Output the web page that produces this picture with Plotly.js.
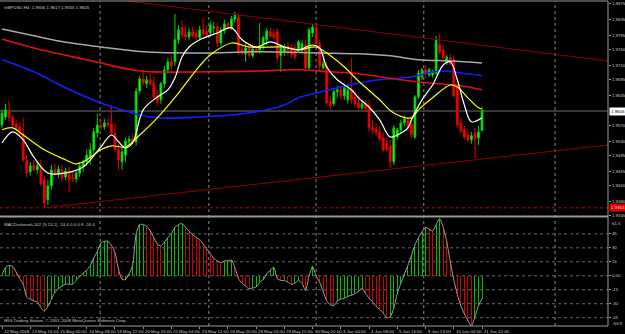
<!DOCTYPE html>
<html><head><meta charset="utf-8">
<script src="https://cdn.plot.ly/plotly-3.0.1.min.js"></script>
<style>html,body{margin:0;padding:0;background:#000;}#c{width:625px;height:334px;}</style>
</head><body><div id="c"></div>
<script>
// ---- price data (GBPUSD H4), one value per bar ----
const open = [1.9570,1.9590,1.9605,1.9588,1.9573,1.9565,1.9550,1.9483,1.9453,1.9468,
1.9458,1.9463,1.9433,1.9383,1.9418,1.9458,1.9448,1.9458,1.9440,1.9455,
1.9438,1.9435,1.9450,1.9465,1.9478,1.9490,1.9508,1.9550,1.9570,1.9565,
1.9575,1.9573,1.9550,1.9508,1.9478,1.9495,1.9528,1.9535,1.9528,1.9655,
1.9685,1.9673,1.9683,1.9675,1.9643,1.9633,1.9673,1.9708,1.9728,1.9728,
1.9783,1.9813,1.9798,1.9790,1.9803,1.9798,1.9788,1.9808,1.9803,1.9800,
1.9813,1.9815,1.9775,1.9805,1.9823,1.9813,1.9833,1.9840,1.9758,1.9748,
1.9765,1.9743,1.9760,1.9758,1.9768,1.9783,1.9803,1.9798,1.9803,1.9743,
1.9753,1.9768,1.9763,1.9763,1.9758,1.9758,1.9770,1.9713,1.9800,1.9813,
1.9773,1.9713,1.9718,1.9628,1.9623,1.9653,1.9658,1.9643,1.9633,1.9658,
1.9638,1.9625,1.9613,1.9623,1.9618,1.9563,1.9560,1.9553,1.9538,1.9523,
1.9518,1.9478,1.9540,1.9558,1.9575,1.9583,1.9573,1.9540,1.9640,1.9690,
1.9708,1.9695,1.9695,1.9700,1.9770,1.9758,1.9725,1.9738,1.9733,1.9663,
1.9575,1.9558,1.9545,1.9533,1.9550,1.9538,1.9556];
const high = [1.9608,1.9623,1.9630,1.9595,1.9583,1.9578,1.9588,1.9495,1.9478,1.9483,
1.9475,1.9483,1.9443,1.9433,1.9470,1.9473,1.9468,1.9470,1.9463,1.9465,
1.9453,1.9458,1.9478,1.9483,1.9508,1.9525,1.9563,1.9598,1.9583,1.9585,
1.9588,1.9618,1.9575,1.9523,1.9513,1.9538,1.9543,1.9548,1.9663,1.9693,
1.9708,1.9693,1.9698,1.9693,1.9658,1.9678,1.9718,1.9738,1.9745,1.9848,
1.9820,1.9833,1.9818,1.9813,1.9815,1.9808,1.9818,1.9838,1.9820,1.9830,
1.9828,1.9825,1.9815,1.9833,1.9828,1.9843,1.9853,1.9848,1.9773,1.9773,
1.9773,1.9768,1.9770,1.9825,1.9793,1.9813,1.9813,1.9808,1.9813,1.9773,
1.9773,1.9778,1.9773,1.9773,1.9783,1.9783,1.9783,1.9813,1.9823,1.9820,
1.9783,1.9733,1.9728,1.9643,1.9663,1.9668,1.9668,1.9673,1.9673,1.9738,
1.9653,1.9643,1.9633,1.9633,1.9633,1.9583,1.9573,1.9568,1.9553,1.9538,
1.9533,1.9570,1.9563,1.9583,1.9593,1.9590,1.9588,1.9645,1.9708,1.9713,
1.9718,1.9713,1.9708,1.9793,1.9798,1.9768,1.9745,1.9748,1.9743,1.9673,
1.9588,1.9568,1.9558,1.9553,1.9563,1.9568,1.9617];
const low = [1.9563,1.9583,1.9578,1.9563,1.9558,1.9545,1.9478,1.9438,1.9443,1.9453,
1.9448,1.9418,1.9363,1.9370,1.9408,1.9443,1.9438,1.9428,1.9433,1.9403,
1.9428,1.9428,1.9440,1.9453,1.9468,1.9470,1.9498,1.9540,1.9558,1.9558,
1.9563,1.9543,1.9503,1.9458,1.9458,1.9478,1.9518,1.9523,1.9518,1.9648,
1.9668,1.9663,1.9668,1.9633,1.9618,1.9623,1.9663,1.9698,1.9708,1.9718,
1.9773,1.9788,1.9783,1.9783,1.9788,1.9783,1.9783,1.9793,1.9788,1.9790,
1.9798,1.9765,1.9768,1.9798,1.9808,1.9808,1.9825,1.9745,1.9743,1.9728,
1.9738,1.9738,1.9748,1.9748,1.9758,1.9770,1.9788,1.9783,1.9728,1.9703,
1.9743,1.9743,1.9738,1.9733,1.9753,1.9748,1.9708,1.9708,1.9790,1.9768,
1.9708,1.9708,1.9618,1.9608,1.9618,1.9638,1.9633,1.9633,1.9623,1.9623,
1.9613,1.9608,1.9608,1.9603,1.9553,1.9548,1.9543,1.9528,1.9503,1.9503,
1.9463,1.9470,1.9533,1.9550,1.9568,1.9553,1.9538,1.9535,1.9635,1.9683,
1.9688,1.9690,1.9688,1.9695,1.9745,1.9733,1.9720,1.9718,1.9638,1.9563,
1.9550,1.9533,1.9528,1.9523,1.9488,1.9520,1.9555];
const close = [1.9600,1.9608,1.9588,1.9570,1.9563,1.9555,1.9483,1.9450,1.9468,1.9458,
1.9468,1.9423,1.9375,1.9418,1.9458,1.9448,1.9460,1.9438,1.9455,1.9433,
1.9435,1.9450,1.9468,1.9478,1.9495,1.9508,1.9553,1.9570,1.9565,1.9575,
1.9570,1.9550,1.9508,1.9483,1.9503,1.9530,1.9535,1.9528,1.9655,1.9685,
1.9675,1.9683,1.9673,1.9640,1.9628,1.9673,1.9708,1.9728,1.9718,1.9783,
1.9808,1.9795,1.9790,1.9803,1.9793,1.9790,1.9808,1.9798,1.9795,1.9820,
1.9815,1.9775,1.9808,1.9823,1.9813,1.9835,1.9845,1.9753,1.9750,1.9763,
1.9743,1.9760,1.9755,1.9768,1.9788,1.9805,1.9793,1.9790,1.9738,1.9763,
1.9765,1.9750,1.9745,1.9740,1.9778,1.9773,1.9713,1.9808,1.9815,1.9773,
1.9718,1.9723,1.9625,1.9618,1.9653,1.9658,1.9643,1.9663,1.9658,1.9633,
1.9623,1.9613,1.9623,1.9610,1.9563,1.9558,1.9550,1.9535,1.9508,1.9508,
1.9478,1.9563,1.9558,1.9575,1.9585,1.9563,1.9545,1.9640,1.9700,1.9708,
1.9698,1.9708,1.9703,1.9783,1.9753,1.9738,1.9740,1.9723,1.9643,1.9570,
1.9555,1.9540,1.9533,1.9543,1.9535,1.9553,1.9605];

// ---- MACD histogram, one value per bar ----
const macd = [1,9,11,10,4,-3,-9,-23,-25,-27,
-28,-34,-38,-33,-25,-18,-14,-11,-9,-9,
-9,-5,-1,3,6,11,19,26,35,37,
37,33,25,7,-4,-4,2,11,45,55,
55,53,48,41,34,32,36,41,45,52,
55,56,52,48,44,41,39,34,29,24,
19,16,14,16,16,17,9,-3,-8,-11,
-14,-13,-12,-7,-4,2,6,9,-3,-5,
-5,-7,-9,-8,-5,-8,-16,0,10,0,
-7,-17,-27,-31,-32,-27,-25,-24,-22,-21,
-19,-17,-13,-19,-24,-28,-33,-36,-40,-45,
-44,-35,-19,-8,2,11,22,33,41,47,
52,50,48,55,61.5,52,37,15,-4,-20,
-32,-41,-48,-53.9,-44,-32,-24.4];

// ---- moving averages (bar index, price) ----
const maGrayX = [0,8,16,28,40,56,73,90,101,110,118,127,136];
const maGrayY = [1.9810,1.9795,1.9780,1.9765,1.9753,1.9750,1.9753,1.9750,1.9748,1.9743,1.9733,1.9730,1.9725];
const maRedX = [0,11,24,28,39,59,73,84,93,101,113,121,130,136];
const maRedY = [1.9785,1.9758,1.9733,1.9725,1.9705,1.9703,1.9705,1.9708,1.9703,1.9698,1.9683,1.9675,1.9668,1.9658];
const maBlueX = [0,9,18,28,37,44,56,70,80,84,89,96,101,107,116,124,130,136];
const maBlueY = [1.9733,1.9703,1.9663,1.9625,1.9600,1.9588,1.9590,1.9600,1.9620,1.9638,1.9650,1.9665,1.9675,1.9683,1.9690,1.9705,1.9700,1.9693];
const maYellowX = [0,3,6,12,18,21,24,28,31,35,39,44,50,56,59,65,70,80,84,89,92,97,101,107,111,116,118,122,127,129,132,135,136];
const maYellowY = [1.9558,1.9563,1.9545,1.9508,1.9483,1.9473,1.9483,1.9508,1.9518,1.9515,1.9545,1.9588,1.9650,1.9718,1.9745,1.9775,1.9765,1.9765,1.9758,1.9765,1.9750,1.9715,1.9680,1.9633,1.9600,1.9588,1.9608,1.9638,1.9670,1.9665,1.9638,1.9613,1.9610];
const maWhiteX = [0,3,6,9,13,18,23,28,31,33,35,37,40,44,47,49,51,53,56,61,65,68,72,76,80,84,88,90,92,95,99,101,104,107,110,112,115,116,119,122,125,127,129,131,133,136];
const maWhiteY = [1.9525,1.9553,1.9533,1.9490,1.9450,1.9450,1.9465,1.9515,1.9545,1.9528,1.9513,1.9525,1.9608,1.9640,1.9658,1.9688,1.9740,1.9765,1.9783,1.9800,1.9813,1.9783,1.9765,1.9778,1.9765,1.9758,1.9770,1.9763,1.9715,1.9683,1.9658,1.9638,1.9615,1.9583,1.9540,1.9545,1.9563,1.9583,1.9633,1.9670,1.9720,1.9728,1.9683,1.9620,1.9578,1.9588];

// ---- drawn objects ----
const trendUpperX = [35.4, 171.7], trendUpperY = [1.9880, 1.9730];
const trendLowerX = [12, 171.7],  trendLowerY = [1.9363, 1.9520];
const redLevel = 1.9363, bidPrice = 1.9605;
const weekGridBars = [27.8, 58.6, 89, 119.5, 156.7];
const macdLevels = [45, 30, 15, 0, -15, -30, -45];

// ---- axis labels ----
const priceTicks = [1.9875,1.9835,1.9795,1.9760,1.9720,1.9685,1.9645,1.9570,1.9530,1.9495,1.9455,1.9420,1.9380,1.9345];
const priceTickText = ['1.9875','1.9835','1.9795','1.9760','1.9720','1.9685','1.9645','1.9570','1.9530','1.9495','1.9455','1.9420','1.9380','1.9345'];
const macdTicks = [45,30,15,0,-15,-30,-45];
const macdTickText = ['45','30','15','0.00','-15','-30','-45'];
const macdMax = 61.5, macdMin = -53.9;
const dateTickBars = [0,8,16,24,32,40,48,56,64,72,80,88,96,104,112,120,128,136];
const dateLabels = ['12 May 2008','13 May 16:00','15 May 00:00','16 May 08:00','19 May 12:00','20 May 20:00','22 May 04:00','23 May 12:00','26 May 20:00','28 May 04:00','29 May 12:00','30 May 20:00','3 Jun 00:00','4 Jun 08:00','5 Jun 16:00','8 Jun 23:00','10 Jun 04:00','11 Jun 12:00'];

const bars = close.map((_, i) => i);
const histColors = macd.map((v, i) => (i === 0 || v >= macd[i - 1]) ? '#00c000' : '#d00000');

const FONT = 'Liberation Sans, Arial, sans-serif';
const FS = 4.4;
const TXT = '#c8c8c8';
const traces = [
  {type:'bar', x:bars, y:macd, xaxis:'x', yaxis:'y2', width:0.28, marker:{color:histColors, line:{width:0}}, hoverinfo:'skip'},
  {type:'scatter', mode:'lines', x:bars, y:macd, xaxis:'x', yaxis:'y2', line:{color:'#a0a0a0', width:1, shape:'spline', smoothing:0.6}, hoverinfo:'skip'},
  {type:'scatter', mode:'lines', x:maGrayX, y:maGrayY, line:{color:'#a8a8a8', width:1.5, shape:'spline'}, hoverinfo:'skip'},
  {type:'scatter', mode:'lines', x:maBlueX, y:maBlueY, line:{color:'#1020ff', width:1.6, shape:'spline'}, hoverinfo:'skip'},
  {type:'scatter', mode:'lines', x:maRedX, y:maRedY, line:{color:'#e01010', width:1.6, shape:'spline'}, hoverinfo:'skip'},
  {type:'candlestick', x:bars, open:open, high:high, low:low, close:close, xaxis:'x', yaxis:'y',
   increasing:{line:{color:'#00d000', width:1}, fillcolor:'#22ff22'},
   decreasing:{line:{color:'#e00000', width:1}, fillcolor:'#ff0000'},
   whiskerwidth:0, hoverinfo:'skip'},
  {type:'scatter', mode:'lines', x:maYellowX, y:maYellowY, line:{color:'#ffff00', width:1.2, shape:'spline'}, hoverinfo:'skip'},
  {type:'scatter', mode:'lines', x:maWhiteX, y:maWhiteY, line:{color:'#ffffff', width:1.2, shape:'spline'}, hoverinfo:'skip'}
];

const shapes = [];
weekGridBars.forEach(b => shapes.push({type:'line', xref:'x', yref:'paper', x0:b, x1:b, y0:0, y1:1, line:{color:'#8a8a8a', width:1, dash:'dot'}, layer:'below'}));
macdLevels.forEach(v => shapes.push({type:'line', xref:'paper', yref:'y2', x0:0, x1:1, y0:v, y1:v, line:{color:'#6a6a6a', width:1, dash:'dot'}, layer:'below'}));
shapes.push({type:'line', xref:'paper', yref:'y', x0:0, x1:1, y0:bidPrice, y1:bidPrice, line:{color:'#707070', width:1}, layer:'below'});
shapes.push({type:'line', xref:'paper', yref:'y', x0:0, x1:1, y0:redLevel, y1:redLevel, line:{color:'#d00000', width:1, dash:'dot'}});
shapes.push({type:'line', xref:'x', yref:'y', x0:trendUpperX[0], x1:trendUpperX[1], y0:trendUpperY[0], y1:trendUpperY[1], line:{color:'#900000', width:1}});
shapes.push({type:'line', xref:'x', yref:'y', x0:trendLowerX[0], x1:trendLowerX[1], y0:trendLowerY[0], y1:trendLowerY[1], line:{color:'#900000', width:1}});
// frames
shapes.push({type:'line', xref:'paper', yref:'paper', x0:0, x1:1, y0:0.337, y1:0.337, line:{color:'#9a9a9a', width:2}});
shapes.push({type:'line', xref:'paper', yref:'paper', x0:0, x1:1, y0:1, y1:1, line:{color:'#9a9a9a', width:1}});
shapes.push({type:'line', xref:'paper', yref:'paper', x0:0, x1:1, y0:0, y1:0, line:{color:'#9a9a9a', width:1}});
shapes.push({type:'line', xref:'paper', yref:'paper', x0:1, x1:1, y0:0, y1:1, line:{color:'#9a9a9a', width:1}});

const annotations = [];
const f = {family:FONT, size:FS, color:TXT};
annotations.push({xref:'paper', yref:'paper', x:0.004, y:1, yshift:-2, xanchor:'left', yanchor:'top', showarrow:false, text:'GBPUSD,H4  1.9556 1.9617 1.9555 1.9605', font:f});
annotations.push({xref:'paper', yref:'paper', x:0.004, y:0.3308, yshift:-2, xanchor:'left', yanchor:'top', showarrow:false, text:'MACDcolored+102 (5,13,1) -24.4 0.0 0.8 -24.4', font:f});
annotations.push({xref:'paper', yref:'paper', x:0.004, y:0, yshift:1, xanchor:'left', yanchor:'bottom', showarrow:false, text:'MIG Trading Station, © 2001-2008 MetaQuotes Software Corp.', font:f});
dateTickBars.forEach((b, i) => annotations.push({xref:'x', yref:'paper', x:b, y:0, yshift:-1, xshift:0, xanchor:'left', yanchor:'top', showarrow:false, text:dateLabels[i], font:f}));
annotations.push({xref:'paper', yref:'y2', x:1, y:macdMax, xshift:2, yshift:-1, xanchor:'left', yanchor:'top', showarrow:false, text:'61.5', font:f});
annotations.push({xref:'paper', yref:'y2', x:1, y:macdMin, xshift:2, yshift:-2, xanchor:'left', yanchor:'bottom', showarrow:false, text:'-53.9', font:f});
annotations.push({xref:'paper', yref:'y', x:1, y:bidPrice, xshift:1, xanchor:'left', yanchor:'middle', showarrow:false, text:'1.9605', bgcolor:'#ffffff', borderpad:1, font:{family:FONT, size:FS, color:'#000000'}});
annotations.push({xref:'paper', yref:'y', x:1, y:redLevel, xshift:1, xanchor:'left', yanchor:'middle', showarrow:false, text:'1.9363', bgcolor:'#e00000', borderpad:1, font:{family:FONT, size:FS, color:'#ffd0d0'}});

const layout = {
  width:625, height:334, paper_bgcolor:'#000', plot_bgcolor:'#000',
  margin:{l:0, r:17, t:1, b:8}, showlegend:false, hovermode:false, bargap:0,
  xaxis:{range:[-0.57, 171.7], anchor:'y2', showgrid:false, zeroline:false, showline:false,
         tickvals:dateTickBars, ticks:'outside', ticklen:2, tickcolor:'#9a9a9a', showticklabels:false,
         rangeslider:{visible:false}, fixedrange:true},
  yaxis:{domain:[0.3415, 1], range:[1.9345, 1.9880], side:'right', anchor:'x', showgrid:false, zeroline:false,
         tickvals:priceTicks, ticktext:priceTickText, ticks:'outside', ticklen:2, tickcolor:'#9a9a9a',
         tickfont:f},
  yaxis2:{domain:[0, 0.3308], range:[macdMin, macdMax], side:'right', anchor:'x', showgrid:false, zeroline:false,
          tickvals:macdTicks, ticktext:macdTickText, ticks:'outside', ticklen:2, tickcolor:'#9a9a9a',
          tickfont:f},
  shapes:shapes, annotations:annotations
};
Plotly.newPlot('c', traces, layout, {staticPlot:true, displayModeBar:false});
</script></body></html>
